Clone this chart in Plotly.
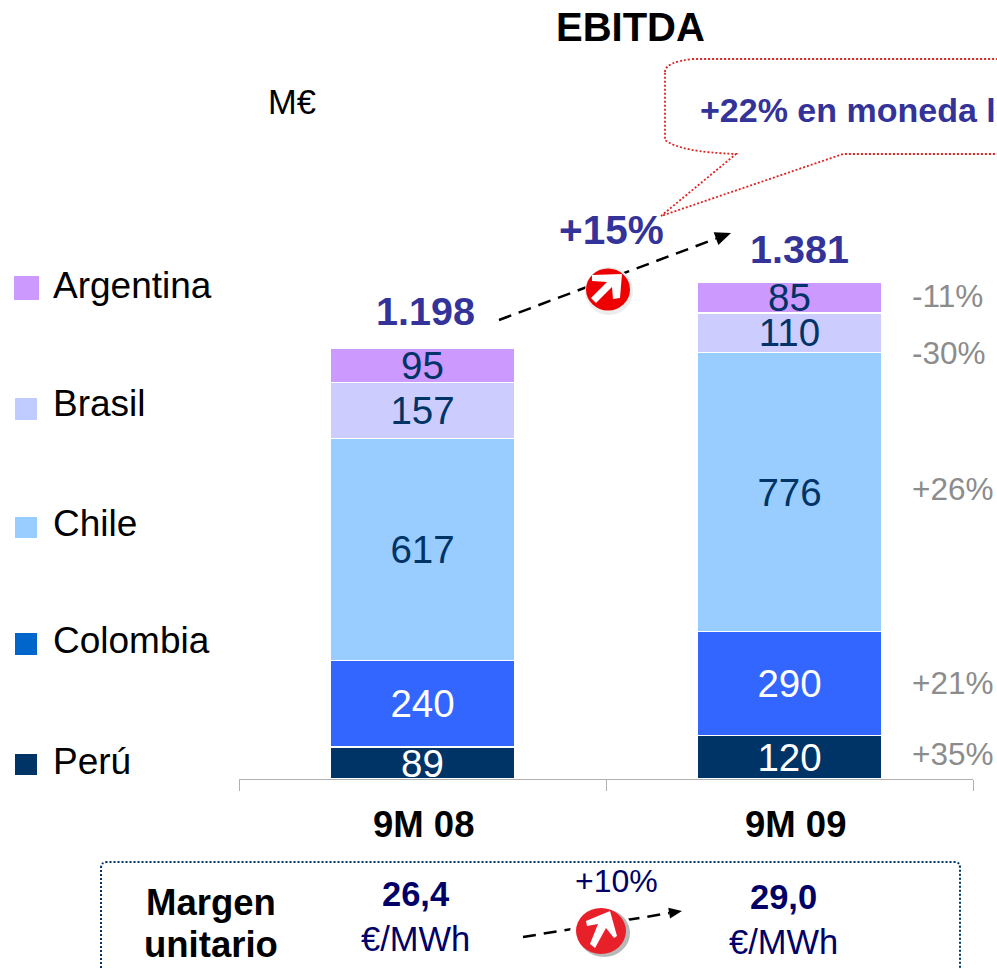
import plotly.graph_objects as go

WIDTH, HEIGHT = 997, 968
FONT = "Liberation Sans"

periods = ["9M 08", "9M 09"]
countries = ["Perú", "Colombia", "Chile", "Brasil", "Argentina"]
peru = [89, 120]
colombia = [240, 290]
chile = [617, 776]
brasil = [157, 110]
argentina = [95, 85]
totals = ["1.198", "1.381"]
changes = ["+35%", "+21%", "+26%", "-30%", "-11%"]
margin_values = ["26,4", "29,0"]
bar_colors = ["#003366", "#3366FF", "#99CCFF", "#CCCCFF", "#CC99FF"]
legend_colors = ["#003366", "#0066CC", "#99CCFF", "#C0CCFF", "#CC99FF"]
label_colors = ["#FFFFFF", "#FFFFFF", "#003366", "#003366", "#003366"]

L, R, T, B = 239, 973, 0, 779


def px(x):
    return (x - L) / (R - L)


def py(y):
    return (B - y) / (B - T)


def P(x, y):
    return f"{px(x):.5f},{py(y):.5f}"


fig = go.Figure()
series = [peru, colombia, chile, brasil, argentina]
for name, vals, color, lc in zip(countries, series, bar_colors, label_colors):
    fig.add_trace(go.Bar(
        x=periods, y=vals, name=name, width=0.5,
        marker=dict(color=color, line=dict(color="#FFFFFF", width=1.2)),
        text=[str(v) for v in vals], textposition="inside",
        insidetextanchor="middle", constraintext="none",
        textangle=0,
        textfont=dict(family=FONT, size=38.5, color=lc),
        showlegend=False,
    ))

annotations = []
shapes = []


def text(x, y, s, size, color="#000000", bold=False, anchor="center"):
    annotations.append(dict(
        x=px(x), y=py(y), xref="paper", yref="paper", text=f"<b>{s}</b>" if bold else s,
        showarrow=False, xanchor=anchor, yanchor="middle",
        font=dict(family=FONT, size=size, color=color),
        borderpad=0, borderwidth=0,
    ))


def shape_path(path, fill=None, line=None, width=0, dash="solid"):
    shapes.append(dict(
        type="path", xref="paper", yref="paper", path=path, layer="above",
        fillcolor=fill if fill else "rgba(0,0,0,0)",
        line=dict(color=line if line else "rgba(0,0,0,0)", width=width, dash=dash),
    ))


def polygon(points, fill):
    shape_path("M" + " L".join(P(x, y) for x, y in points) + " Z", fill=fill)


def rect(x0, y0, x1, y1, color):
    shapes.append(dict(type="rect", xref="paper", yref="paper", layer="above",
                       x0=px(x0), x1=px(x1), y0=py(y0), y1=py(y1),
                       fillcolor=color, line=dict(width=0)))


def ellipse(x, y, rx, ry, color):
    shapes.append(dict(type="circle", xref="paper", yref="paper", layer="above",
                       x0=px(x - rx), x1=px(x + rx), y0=py(y - ry), y1=py(y + ry),
                       fillcolor=color, line=dict(width=0)))


def dashed_arrow(x0, y0, x1, y1, tip_size=16):
    ux, uy = x1 - x0, y1 - y0
    n = (ux * ux + uy * uy) ** 0.5
    ux, uy = ux / n, uy / n
    bx, by = x1 - ux * tip_size, y1 - uy * tip_size
    shape_path(f"M{P(x0, y0)} L{P(bx, by)}", line="#000000", width=2.5, dash="13px,8px")
    w = tip_size * 0.42
    polygon([(x1, y1), (bx - uy * w, by + ux * w), (bx + uy * w, by - ux * w)], "#000000")


# Title and unit
text(630, 27, "EBITDA", 40, bold=True)
text(292, 102, "M€", 34.5)

# Legend
legend_y = [761, 640, 523, 403, 285]
square_boxes = [(15, 754, 37, 775), (15, 633, 37, 655), (15, 517, 37, 538),
                (15, 398, 37, 420), (14, 276, 39, 300)]
for name, color, y, box in zip(countries, legend_colors, legend_y, square_boxes):
    rect(*box, color)
    text(53, y, name, 37, anchor="left")

# Category labels
text(423, 824, periods[0], 36.5, bold=True)
text(795, 824, periods[1], 36.5, bold=True)

# Totals
text(425, 311, totals[0], 39.5, "#333399", True)
text(799, 249, totals[1], 39.5, "#333399", True)

# Growth by country
for s, y in zip(changes, [754, 683, 489, 353, 296]):
    text(912, y, s, 31.5, "#8C8C8C", anchor="left")

# Callout
callout = (
    f"M{P(665, 72)} Q{P(665, 62)} {P(693, 59)} L{P(1020, 59)} L{P(1020, 154)} L{P(843, 154)} "
    f"L{P(661, 216)} L{P(736, 154)} Q{P(680, 152)} {P(665, 140)} Z"
)
shape_path(callout, line="#DD2222", width=1.8, dash="2px,2px")
text(700, 110, "+22% en moneda local", 34, "#333399", True, anchor="left")

# Total growth
dashed_arrow(499, 320, 731, 233)
ellipse(609, 291, 24, 24, "#EDEDED")
ellipse(608, 289.5, 22, 21, "#EE0000")
polygon([(622, 274), (592, 275), (592, 281), (607, 282), (591, 298), (596, 303),
         (612, 287), (613, 299), (620, 298)], "#FFFFFF")
text(611, 230, "+15%", 40.5, "#333399", True)

# Margin box
box = (
    f"M{P(101, 1000)} L{P(101, 868)} Q{P(101, 862)} {P(107, 862)} L{P(955, 862)} "
    f"Q{P(960, 862)} {P(960, 868)} L{P(960, 1000)}"
)
shape_path(box, line="#003366", width=2, dash="2px,2px")
text(211, 902, "Margen", 36.5, bold=True)
text(211, 945, "unitario", 36.5, bold=True)
text(415, 894, margin_values[0], 34.5, "#000066", True)
text(415, 939, "€/MWh", 34.5, "#000066")
text(783, 897, margin_values[1], 34.5, "#000066", True)
text(783, 942, "€/MWh", 34.5, "#000066")
text(616, 881, "+10%", 32, "#000066")
dashed_arrow(523, 937, 682, 911, tip_size=13)
ellipse(601, 932, 31, 29, "#FFFFFF")
ellipse(604, 933, 26, 24, "#B8B8B8")
ellipse(601, 931, 25, 23, "#E8202A")
polygon([(610, 911), (586, 921), (587, 926), (598, 924), (590, 944), (595, 948),
         (606, 928), (614, 938), (617, 936)], "#FFFFFF")

fig.update_layout(
    width=WIDTH, height=HEIGHT, autosize=False, barmode="stack",
    margin=dict(l=L, r=WIDTH - R, t=T, b=HEIGHT - B, pad=0),
    paper_bgcolor="#FFFFFF", plot_bgcolor="#FFFFFF",
    font=dict(family=FONT),
    annotations=annotations, shapes=shapes, showlegend=False,
    xaxis=dict(
        type="category", range=[-0.5, 1.5], showgrid=False, zeroline=False,
        showline=True, linecolor="#B0B0B0", linewidth=1,
        ticks="outside", tickson="boundaries", ticklen=11, tickcolor="#B0B0B0", tickwidth=1,
        showticklabels=False,
    ),
    yaxis=dict(visible=False, range=[0, (B - T) / (496.5 / 1381)], fixedrange=True),
)

fig.write_html(
    "out.html", config=dict(displayModeBar=False),
    post_script="document.body.style.margin='0';document.body.style.overflow='hidden';",
)
